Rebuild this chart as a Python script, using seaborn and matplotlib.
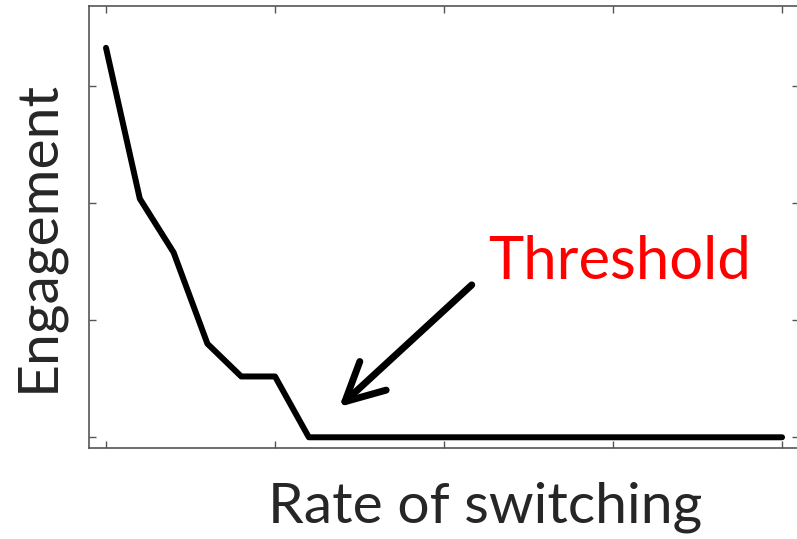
import seaborn as sns
import matplotlib.pyplot as plt

# values
rate = [0.0, 0.1, 0.2, 0.3, 0.4, 0.5, 0.6, 0.7, 0.8, 0.9, 1.0,
        1.1, 1.2, 1.3, 1.4, 1.5, 1.6, 1.7, 1.8, 1.9, 2.0]
engagement = [3.33, 2.04, 1.58, 0.80, 0.52, 0.52, 0.0, 0.0, 0.0, 0.0, 0.0,
              0.0, 0.0, 0.0, 0.0, 0.0, 0.0, 0.0, 0.0, 0.0, 0.0]
x_ticks = [0.0, 0.5, 1.0, 1.5, 2.0]
y_ticks = [0, 1, 2, 3]

sns.set_style("ticks", {"xtick.direction": "in", "ytick.direction": "in"})
plt.rcParams['font.family'] = ['Lato', 'DejaVu Sans']

fig = plt.figure(figsize=(7.97, 5.39), dpi=100)
ax = fig.add_axes([0.1118, 0.1694, 0.8907, 0.82])

sns.lineplot(x=rate, y=engagement, color='black', linewidth=4.3, ax=ax)

ax.set_xlim(-0.05, 2.05)
ax.set_ylim(-0.089, 3.69)
ax.set_xticks(x_ticks)
ax.set_yticks(y_ticks)
ax.set_xticklabels([])
ax.set_yticklabels([])
ax.tick_params(top=True, right=True, length=5, width=1, color='#555555')
for s in ax.spines.values():
    s.set_color('#555555')
    s.set_linewidth(1.2)

# arrow pointing at the threshold
ax.annotate('', xy=(0.69, 0.26), xytext=(1.082, 1.303),
            arrowprops=dict(arrowstyle='->,head_length=0.55,head_width=0.28',
                            color='black', lw=5, mutation_scale=50,
                            shrinkA=0, shrinkB=0))
ax.text(1.52, 1.50, 'Threshold', color='red', fontsize=43,
        ha='center', va='center')

fig.text(485 / 797, 1 - 507 / 539, 'Rate of switching', fontsize=41,
         ha='center', va='center')
fig.text(38 / 797, 1 - 236 / 539, 'Engagement', fontsize=41,
         rotation=90, ha='center', va='center')

fig.savefig('out.png', dpi=100)
